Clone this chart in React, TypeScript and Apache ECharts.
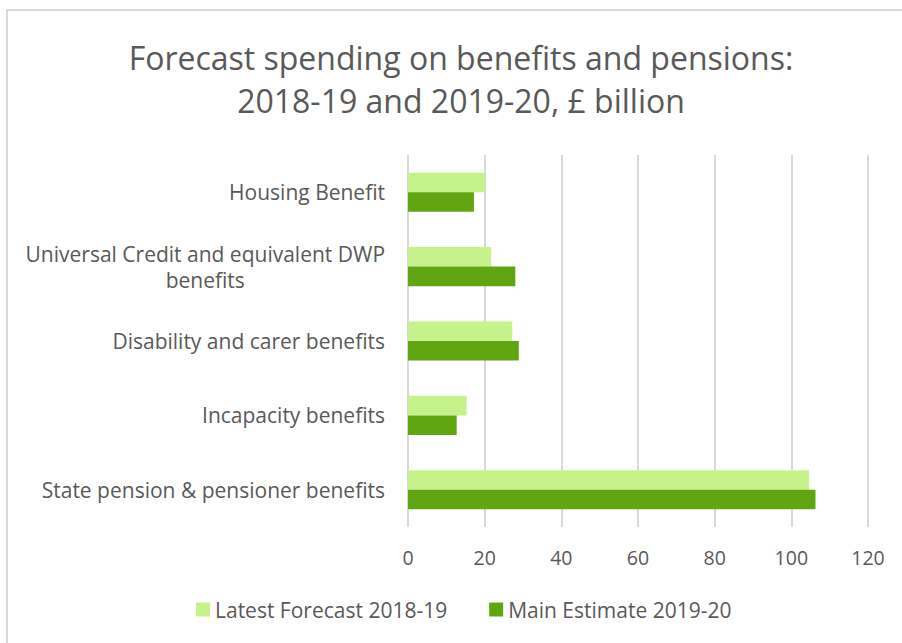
import React, { useEffect, useRef } from "react";
import * as echarts from "echarts";

const categories = [
  "Housing Benefit",
  "Universal Credit and equivalent DWP\nbenefits",
  "Disability and carer benefits",
  "Incapacity benefits",
  "State pension & pensioner benefits",
];
const seriesNames = ["Latest Forecast 2018-19", "Main Estimate 2019-20"];
const latestForecast = [20.1, 21.7, 27.2, 15.3, 104.6];
const mainEstimate = [17.2, 28.0, 28.9, 12.7, 106.3];
const xTicks = { min: 0, max: 120, interval: 20 };

const FONT = "'Open Sans', 'Noto Sans', sans-serif";
const TEXT = "#595959";
const GRIDLINE = "#d9d9d9";

export default function App() {
  const ref = useRef<HTMLDivElement>(null);

  useEffect(() => {
    if (!ref.current) return;
    const chart = echarts.init(ref.current, undefined, { renderer: "svg" });
    chart.setOption({
      animation: false,
      backgroundColor: "#ffffff",
      graphic: [
        {
          type: "polyline",
          shape: { points: [[7, 643], [7, 10], [902, 10]] },
          style: { stroke: GRIDLINE, lineWidth: 2, fill: null },
          silent: true,
        },
        {
          type: "text",
          x: 461,
          y: 36,
          style: {
            text: "Forecast spending on benefits and pensions:\n2018-19 and 2019-20, £ billion",
            font: `32px ${FONT}`,
            fill: TEXT,
            textAlign: "center",
            lineHeight: 43,
          },
        },
      ],
      legend: {
        data: seriesNames,
        left: 196,
        top: 599,
        padding: 0,
        icon: "rect",
        itemWidth: 14,
        itemHeight: 14,
        itemGap: 42,
        textStyle: { color: TEXT, fontSize: 21, fontFamily: FONT },
      },
      grid: { left: 408, top: 155, width: 460, height: 372, containLabel: false },
      xAxis: {
        type: "value",
        min: xTicks.min,
        max: xTicks.max,
        interval: xTicks.interval,
        axisLine: { show: false },
        axisTick: { show: false },
        splitLine: { show: true, lineStyle: { color: GRIDLINE, width: 2 } },
        axisLabel: { color: TEXT, fontSize: 19.5, fontFamily: FONT, margin: 20 },
      },
      yAxis: {
        type: "category",
        data: categories,
        inverse: true,
        axisLine: { show: false },
        axisTick: { show: false },
        axisLabel: {
          margin: 23,
          formatter: (v: string) =>
            v
              .split("\n")
              .map((line) => `{c|${line}}`)
              .join("\n"),
          rich: {
            c: {
              color: TEXT,
              fontSize: 21,
              fontFamily: FONT,
              align: "center",
              lineHeight: 26,
            },
          },
        },
      },
      series: [
        {
          name: seriesNames[0],
          type: "bar",
          data: latestForecast,
          itemStyle: { color: "#c5f28a" },
          barGap: "0%",
          barCategoryGap: "47.5%",
        },
        {
          name: seriesNames[1],
          type: "bar",
          data: mainEstimate,
          itemStyle: { color: "#62a512" },
          barGap: "0%",
          barCategoryGap: "47.5%",
        },
      ],
    });
    return () => chart.dispose();
  }, []);

  return (
    <div
      ref={ref}
      style={{ position: "fixed", left: 0, top: 0, width: 902, height: 643 }}
    />
  );
}
